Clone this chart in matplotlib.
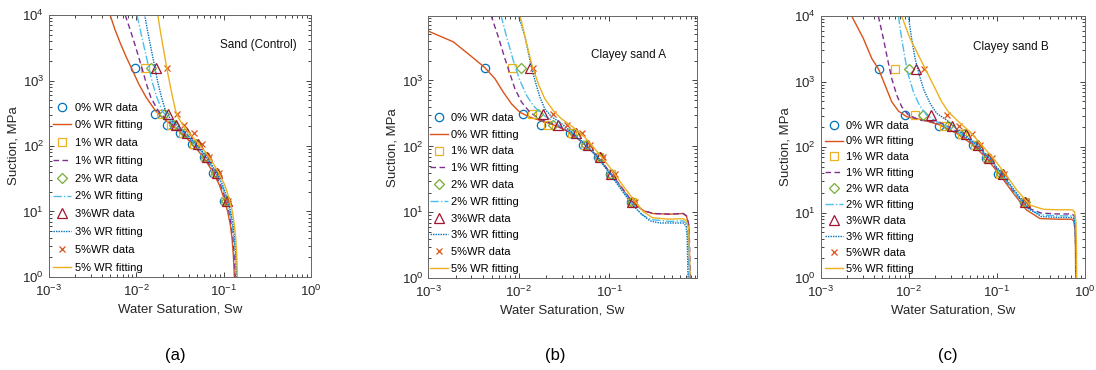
import numpy as np
import matplotlib
matplotlib.use('Agg')
from matplotlib import pyplot as plt

plt.rcParams['font.family'] = ['Liberation Sans', 'DejaVu Sans']
plt.rcParams['mathtext.default'] = 'regular'

# ---- data ----
labels = ['0%', '1%', '2%', '3%', '5%']
data_names = ['0% WR data', '1% WR data', '2% WR data', '3%WR data', '5%WR data']
fit_names = ['0% WR fitting', '1% WR fitting', '2% WR fitting', '3% WR fitting', '5% WR fitting']

psi_data = [1550, 310, 210, 158, 106, 68, 38.5, 14.5]

# panel (a) Sand (Control)
sw_data_a = [
    [0.0096, 0.0164, 0.0222, 0.0316, 0.0431, 0.0593, 0.0754, 0.101],
    [0.0125, 0.0194, 0.025, 0.034, 0.046, 0.061, 0.079, 0.104],
    [0.0149, 0.021, 0.027, 0.036, 0.048, 0.063, 0.081, 0.106],
    [0.0170, 0.0232, 0.0287, 0.0378, 0.0515, 0.0643, 0.0838, 0.109],
    [0.0226, 0.0294, 0.0351, 0.046, 0.0562, 0.0684, 0.0875, 0.111],
]
psi_fit_a = [10000, 5900, 3660, 2280, 1420, 890, 556, 345, 273, 215, 170, 134,
             106, 83.5, 66, 52, 41, 25.7, 16, 10, 6.2, 3.9, 2.1, 1]
sw_fit_a = [
    [0.00501, 0.00572, 0.00659, 0.00767, 0.00907, 0.01064, 0.01294, 0.01657, 0.01977, 0.02466, 0.03077, 0.0374,
     0.04385, 0.05148, 0.05934, 0.06653, 0.07459, 0.08913, 0.1009, 0.1112, 0.1194, 0.1248, 0.1294, 0.1328],
    [0.007464, 0.008526, 0.009567, 0.01064, 0.01183, 0.01305, 0.01464, 0.01778, 0.02086, 0.0258, 0.03191, 0.03877,
     0.04547, 0.05333, 0.06143, 0.06893, 0.07734, 0.09235, 0.1045, 0.1152, 0.1226, 0.1282, 0.1328, 0.1364],
    [0.01018, 0.01112, 0.01204, 0.01305, 0.01413, 0.01543, 0.01717, 0.01979, 0.02259, 0.02697, 0.03306, 0.04018,
     0.04711, 0.05525, 0.0631, 0.07079, 0.07943, 0.09482, 0.1073, 0.1183, 0.1259, 0.1316, 0.1364, 0.1388],
    [0.01248, 0.01339, 0.01438, 0.01543, 0.01657, 0.01778, 0.01944, 0.02161, 0.02403, 0.02818, 0.03425, 0.04125,
     0.04838, 0.05673, 0.0648, 0.07268, 0.08154, 0.09738, 0.1093, 0.1205, 0.1282, 0.1339, 0.1388, 0.1413],
    [0.01763, 0.01875, 0.01995, 0.02123, 0.02259, 0.02424, 0.02603, 0.02818, 0.03025, 0.03365, 0.03843, 0.04507,
     0.0524, 0.06088, 0.06893, 0.07734, 0.08601, 0.1027, 0.1152, 0.1259, 0.1328, 0.1376, 0.1413, 0.1438],
]

# panel (b) Clayey sand A
sw_data_b = [
    [0.00423, 0.01122, 0.01758, 0.0368, 0.0517, 0.0757, 0.102, 0.1766],
    [0.00833, 0.01388, 0.021, 0.039, 0.054, 0.077, 0.104, 0.178],
    [0.01048, 0.01644, 0.024, 0.041, 0.056, 0.079, 0.105, 0.179],
    [0.0133, 0.01866, 0.0269, 0.0425, 0.0577, 0.0802, 0.1061, 0.1795],
    [0.01423, 0.0241, 0.0338, 0.0495, 0.0613, 0.0859, 0.1156, 0.192],
]
sw_fit_b = [
    [0.001, 0.00189, 0.00289, 0.00423, 0.00546, 0.00675, 0.00833, 0.0103, 0.0133, 0.0187, 0.0262, 0.0368,
     0.0517, 0.0724, 0.102, 0.137, 0.1766, 0.238, 0.306, 0.47, 0.658, 0.716, 0.76, 0.77, 0.78],
    [0.00493, 0.00594, 0.00704, 0.00799, 0.00908, 0.01076, 0.0133, 0.01716, 0.0265, 0.0375, 0.0525, 0.0735,
     0.103, 0.138, 0.178, 0.24, 0.31, 0.47, 0.66, 0.72, 0.765, 0.775, 0.785],
    [0.00635, 0.00734, 0.00869, 0.0103, 0.01222, 0.01447, 0.01787, 0.0221, 0.0275, 0.0385, 0.053, 0.074,
     0.103, 0.138, 0.178, 0.23, 0.29, 0.45, 0.66, 0.715, 0.745, 0.755, 0.765],
    [0.00988, 0.01172, 0.01306, 0.01387, 0.0151, 0.01716, 0.01945, 0.02307, 0.0285, 0.039, 0.0535, 0.0745,
     0.103, 0.138, 0.178, 0.218, 0.282, 0.363, 0.555, 0.658, 0.71, 0.73, 0.745],
    [0.0103, 0.01222, 0.01387, 0.01644, 0.01945, 0.0241, 0.0298, 0.0401, 0.0539, 0.0724, 0.102, 0.143,
     0.192, 0.24, 0.3, 0.45, 0.66, 0.72, 0.76, 0.77, 0.78],
]
psi_fit_b = [
    [5600, 3850, 2410, 1563, 1062, 664, 441, 330, 277, 240, 204, 163,
     111, 72, 40, 23.7, 14.8, 10.6, 9.6, 9.4, 9.6, 8.8, 6.25, 3.1, 1],
    [9800, 4590, 2140, 1265, 747, 468, 329, 260, 206, 163, 111, 72,
     40, 23.7, 14.8, 10.6, 9.6, 9.4, 9.6, 8.8, 6.25, 3.1, 1],
    [9800, 4590, 2020, 1000, 592, 416, 310, 260, 210, 163, 110, 70,
     38.5, 22.5, 13.8, 9.2, 7.8, 7.3, 7.4, 6.8, 5.0, 2.6, 1],
    [9800, 4590, 2275, 1563, 1000, 557, 370, 282, 232, 163, 109, 69,
     37.5, 21.5, 13.2, 10, 7.45, 6.9, 6.9, 6.9, 6.2, 4.0, 1],
    [9800, 3630, 1799, 891, 526, 349, 261, 195, 137, 86, 47.9, 25.1,
     14.8, 10.2, 8.3, 7.9, 8.0, 7.4, 5.5, 2.8, 1],
]

# panel (c) Clayey sand B
sw_data_c = [
    [0.00456, 0.00916, 0.0221, 0.0377, 0.0543, 0.0757, 0.1045, 0.206],
    [0.0070, 0.0119, 0.025, 0.040, 0.057, 0.078, 0.109, 0.207],
    [0.0100, 0.0147, 0.028, 0.042, 0.059, 0.079, 0.112, 0.208],
    [0.0121, 0.01795, 0.0308, 0.0445, 0.0619, 0.0811, 0.1169, 0.210],
    [0.0149, 0.0270, 0.0377, 0.052, 0.0647, 0.0893, 0.121, 0.215],
]
sw_fit_c = [
    [0.00225, 0.00305, 0.0038, 0.00456, 0.00538, 0.00641, 0.00764, 0.00949, 0.0147, 0.0227, 0.0351, 0.0543,
     0.0769, 0.109, 0.155, 0.219, 0.31, 0.5, 0.71, 0.75, 0.775, 0.785, 0.79],
    [0.00452, 0.00515, 0.00573, 0.00641, 0.00731, 0.00832, 0.0099, 0.01345, 0.024, 0.037, 0.057, 0.080,
     0.113, 0.16, 0.225, 0.32, 0.5, 0.71, 0.755, 0.78, 0.79, 0.795],
    [0.00764, 0.00832, 0.00908, 0.0099, 0.0113, 0.0132, 0.016, 0.0208, 0.026, 0.039, 0.059, 0.082,
     0.115, 0.162, 0.23, 0.32, 0.5, 0.71, 0.755, 0.78, 0.79, 0.795],
    [0.0099, 0.0108, 0.0118, 0.0132, 0.0149, 0.0175, 0.0208, 0.027, 0.031, 0.041, 0.060, 0.083,
     0.117, 0.163, 0.23, 0.32, 0.5, 0.71, 0.755, 0.78, 0.79, 0.795],
    [0.00832, 0.01035, 0.01233, 0.01534, 0.01907, 0.0237, 0.0282, 0.0367, 0.0497, 0.0676, 0.0917, 0.1244,
     0.1687, 0.239, 0.339, 0.5, 0.72, 0.77, 0.795, 0.805, 0.81],
]
psi_fit_c = [
    [10000, 4560, 2260, 1535, 886, 492, 355, 290, 258, 217, 162, 107,
     67, 37.4, 19.6, 10.9, 8.1, 7.9, 7.9, 7.5, 5.5, 3.0, 1],
    [10000, 4560, 2260, 1117, 622, 413, 308, 258, 230, 165, 107, 67,
     38, 20, 11.8, 9.8, 9.5, 9.5, 9.0, 6.5, 3.0, 1],
    [10000, 4560, 2260, 1256, 700, 438, 308, 244, 210, 160, 107, 67,
     38, 20, 11.2, 9.2, 8.9, 8.9, 8.5, 6.2, 3.0, 1],
    [10000, 4560, 2260, 1256, 741, 464, 327, 258, 220, 160, 107, 67,
     38, 21, 11.5, 8.7, 8.4, 8.4, 8.0, 6.0, 3.0, 1],
    [10000, 4560, 2852, 1589, 886, 492, 346, 244, 171, 107, 67, 39.6,
     22.1, 13, 11.2, 11.0, 11.0, 10.2, 7.0, 3.0, 1],
]

# ---- styles (MATLAB default colour order) ----
data_style = [
    dict(marker='o', color='#0072BD', ms=6),
    dict(marker='s', color='#EDB120', ms=5.5),
    dict(marker='D', color='#77AC30', ms=5),
    dict(marker='^', color='#A2142F', ms=6.5),
    dict(marker='x', color='#D95319', ms=4.5),
]
fit_style = [
    dict(color='#D95319', ls='-'),
    dict(color='#7E2F8E', ls=(0, (4, 2.5))),
    dict(color='#4DBEEE', ls=(0, (6, 1.5, 1, 1.5))),
    dict(color='#0072BD', ls=(0, (1, 0.8))),
    dict(color='#EDB120', ls='-'),
]

panels = [
    dict(pos=[0.0447, 0.2514, 0.239, 0.708], sw_d=sw_data_a, sw_f=sw_fit_a, psi_f=[psi_fit_a] * 5,
         xlim=(1e-3, 1), ylim=(1, 1e4), name='Sand (Control)', namepos=(0.80, 0.885), tag='(a)', tagx=0.160,
         leg=(0.0, 0.0), spacing=0.7),
    dict(pos=[0.3908, 0.2478, 0.2449, 0.709], sw_d=sw_data_b, sw_f=sw_fit_b, psi_f=psi_fit_b,
         xlim=(1e-3, 0.93), ylim=(1, 9500), name='Clayey sand A', namepos=(0.745, 0.85), tag='(b)', tagx=0.507,
         leg=(-0.01, 0.0), spacing=0.61),
    dict(pos=[0.7488, 0.2486, 0.2409, 0.708], sw_d=sw_data_c, sw_f=sw_fit_c, psi_f=psi_fit_c,
         xlim=(1e-3, 1), ylim=(1, 1e4), name='Clayey sand B', namepos=(0.72, 0.88), tag='(c)', tagx=0.865,
         leg=(0.0, 0.0), spacing=0.53),
]

fig = plt.figure(figsize=(10.96, 3.70), dpi=100)

for p in panels:
    ax = fig.add_axes(p['pos'])
    handles = []
    for i in range(5):
        st = data_style[i]
        h1, = ax.plot(p['sw_d'][i], psi_data, ls='none', marker=st['marker'], ms=st['ms'],
                      mfc='none', mec=st['color'], mew=0.9, label=data_names[i])
        fs = fit_style[i]
        h2, = ax.plot(p['sw_f'][i], p['psi_f'][i], color=fs['color'], ls=fs['ls'], lw=1.0,
                      label=fit_names[i])
        handles += [h1, h2]
    ax.set_xscale('log')
    ax.set_yscale('log')
    ax.set_xlim(p['xlim'])
    ax.set_ylim(p['ylim'])
    ax.tick_params(which='both', direction='in', top=True, right=True, labelsize=9.5,
                   colors='#262626', width=0.6)
    ax.tick_params(which='major', length=3.5)
    ax.tick_params(which='minor', length=2)
    ax.tick_params(axis='x', pad=5)
    for s in ax.spines.values():
        s.set_color('#666666')
        s.set_linewidth(0.7)
    ax.set_xlabel('Water Saturation, Sw', fontsize=9.5, color='#262626', labelpad=3)
    ax.set_ylabel('Suction, MPa', fontsize=9.5, color='#262626', labelpad=2)
    ax.text(p['namepos'][0], p['namepos'][1], p['name'], transform=ax.transAxes,
            ha='center', va='center', fontsize=8.5, color='#111111')
    ax.legend(handles=handles, loc='lower left', bbox_to_anchor=p['leg'], frameon=False,
              fontsize=8, handlelength=1.6, handletextpad=0.3, labelspacing=p['spacing'],
              borderaxespad=0.2, borderpad=0.2)
    fig.text(p['tagx'], 0.04, p['tag'], ha='center', va='center', fontsize=12)

plt.savefig('out.png', dpi=100)
